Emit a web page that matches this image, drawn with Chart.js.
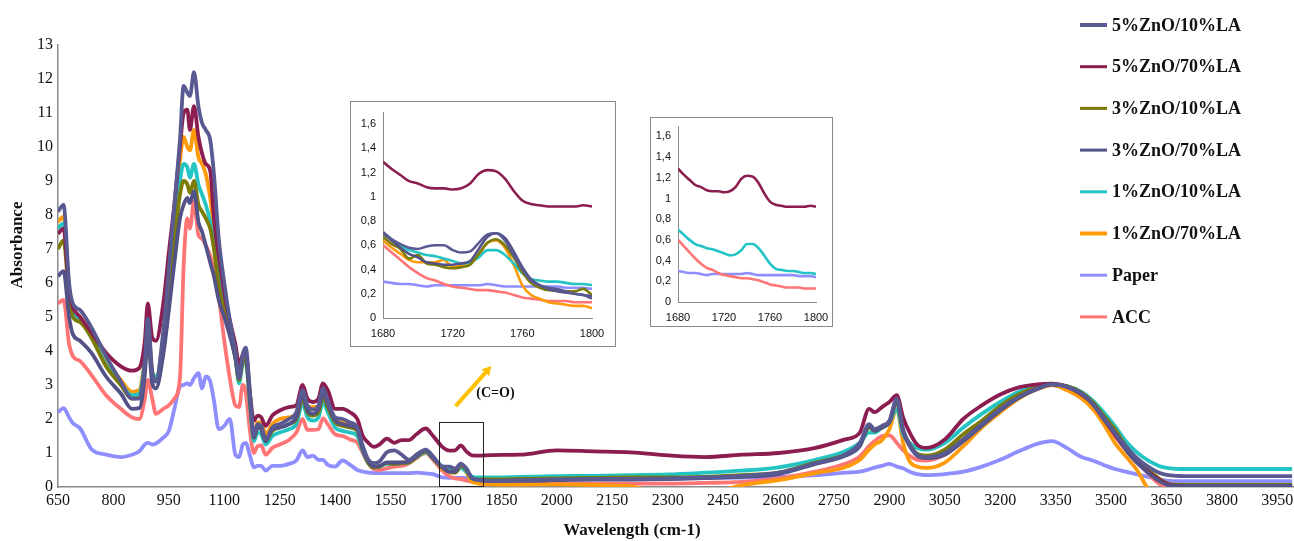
<!DOCTYPE html>
<html><head><meta charset="utf-8">
<script src="https://cdn.jsdelivr.net/npm/chart.js@4.4.1/dist/chart.umd.min.js"></script>
<style>
html,body{margin:0;padding:0;background:#fff;}
#wrap{position:relative;width:1294px;height:541px;overflow:hidden;background:#fff;}
#main{position:absolute;left:0;top:0;}
.inset{position:absolute;border:1px solid #8a8a8a;background:#fff;}
.inset canvas{display:block;}
#in1{left:350px;top:101px;width:264px;height:244px;}
#in2{left:650px;top:117px;width:181px;height:208px;}
</style></head><body>
<div id="wrap">
<canvas id="main" width="1294" height="541"></canvas>
<div class="inset" id="in1"><canvas id="c1" width="264" height="244"></canvas></div>
<div class="inset" id="in2"><canvas id="c2" width="181" height="208"></canvas></div>
</div>
<script>
// ---------- main spectrum data ----------
const wavenumbers = [
650,665,680,690,710,740,780,820,850,870,
885,893,905,915,935,950,965,980,990,1000,
1007,1018,1030,1040,1050,1062,1072,1085,1100,1115,
1130,1140,1150,1158,1170,1180,1190,1200,1212,1230,
1250,1275,1295,1312,1325,1340,1355,1367,1380,1400,
1420,1440,1460,1475,1490,1505,1520,1540,1560,1580,
1600,1620,1645,1665,1690,1710,1725,1740,1755,1770,
1790,1820,1900,2000,2100,2200,2300,2400,2500,2600,
2700,2780,2820,2845,2860,2880,2900,2920,2937,2955,
2975,3000,3050,3100,3150,3200,3250,3300,3340,3380,
3420,3450,3480,3510,3540,3570,3600,3630,3660,3700,
3800,3900,3990];

const zno5la10 = [
8.1,8.3,6.0,5.4,5.2,4.7,3.85,3.1,2.6,2.6,
3.7,4.95,3.4,3.1,4.6,6.4,8.3,10.2,11.8,11.6,
11.5,12.2,11.2,10.7,10.5,10.2,9.2,7.3,6.0,4.9,
4.0,3.2,3.9,4.1,2.7,1.5,1.85,1.8,1.4,1.75,
1.85,2.0,2.2,2.85,2.4,2.28,2.4,2.9,2.55,2.05,
2.0,1.9,1.75,1.2,0.8,0.7,0.75,1.02,1.08,0.95,
0.8,0.95,1.1,0.9,0.61,0.6,0.54,0.69,0.52,0.27,
0.2,0.18,0.2,0.22,0.24,0.24,0.25,0.28,0.33,0.42,
0.7,0.95,1.3,1.85,1.7,1.8,1.95,2.6,1.7,1.25,
0.95,0.88,1.0,1.4,1.85,2.3,2.65,2.9,3.02,2.95,
2.75,2.45,2.05,1.6,1.2,0.85,0.6,0.42,0.34,0.32,
0.32,0.32,0.32];

const zno5la70 = [
7.45,7.6,5.8,5.3,5.0,4.55,3.95,3.55,3.42,3.5,
4.3,5.4,4.4,4.3,5.4,6.9,8.3,10.0,11.0,11.1,
10.5,11.2,10.3,9.8,9.5,9.3,7.9,6.8,5.7,4.9,
4.2,3.6,3.9,3.95,2.7,1.95,2.1,2.05,1.8,2.1,
2.25,2.35,2.4,3.0,2.6,2.5,2.6,3.05,2.85,2.3,
2.3,2.2,2.0,1.5,1.3,1.18,1.25,1.42,1.3,1.38,
1.38,1.55,1.72,1.5,1.18,1.07,1.08,1.22,1.05,0.93,
0.92,0.94,0.95,1.08,1.05,1.02,0.93,0.88,0.95,1.0,
1.15,1.4,1.6,2.3,2.2,2.35,2.5,2.7,2.05,1.6,
1.25,1.15,1.4,2.0,2.4,2.72,2.93,3.02,3.04,2.95,
2.72,2.45,2.0,1.55,1.1,0.72,0.45,0.22,0.06,0.03,
0.03,0.03,0.03];

const zno3la10 = [
7.0,7.25,5.6,5.0,4.85,4.4,3.55,3.0,2.6,2.62,
3.55,4.55,3.25,3.15,4.1,5.5,7.2,8.6,9.0,8.9,
8.65,9.0,8.3,8.1,7.9,7.6,7.0,5.9,5.2,4.55,
3.8,3.15,3.7,3.75,2.45,1.45,1.75,1.7,1.35,1.65,
1.75,1.85,2.0,2.6,2.2,2.1,2.2,2.65,2.35,1.9,
1.8,1.75,1.65,1.1,0.7,0.58,0.6,0.7,0.68,0.7,
0.72,0.88,1.05,0.85,0.57,0.44,0.42,0.62,0.5,0.25,
0.22,0.22,0.24,0.25,0.27,0.28,0.28,0.3,0.35,0.42,
0.72,0.95,1.25,1.75,1.65,1.75,1.9,2.5,1.65,1.25,
0.98,0.92,1.1,1.55,1.95,2.38,2.72,2.93,3.02,2.97,
2.78,2.5,2.1,1.7,1.2,0.8,0.5,0.25,0.08,0.06,
0.06,0.06,0.06];

const zno3la70 = [
6.2,6.35,5.0,4.5,4.3,3.95,3.25,2.75,2.3,2.32,
3.3,4.5,3.05,2.9,3.9,5.2,6.6,7.9,8.3,8.5,
8.35,8.7,7.8,7.5,7.1,6.6,6.2,5.5,5.0,4.45,
3.8,3.2,3.85,3.9,2.5,1.45,1.75,1.7,1.35,1.7,
1.75,1.85,2.05,2.7,2.25,2.15,2.3,2.75,2.45,1.95,
1.85,1.8,1.7,1.1,0.75,0.6,0.62,0.72,0.72,0.72,
0.75,0.9,1.08,0.85,0.58,0.45,0.45,0.67,0.55,0.27,
0.2,0.18,0.18,0.2,0.22,0.22,0.23,0.26,0.3,0.38,
0.68,0.92,1.2,1.8,1.65,1.75,1.9,2.55,1.65,1.2,
0.92,0.85,0.95,1.35,1.8,2.25,2.62,2.88,3.02,2.95,
2.75,2.45,2.0,1.6,1.1,0.72,0.42,0.18,0.04,0.03,
0.03,0.03,0.03];

const zno1la10 = [
7.6,7.75,5.8,5.15,4.95,4.45,3.6,3.05,2.7,2.75,
3.7,4.65,3.35,3.25,4.3,5.8,7.5,9.0,9.5,9.4,
9.1,9.5,8.9,8.6,8.3,7.8,7.2,6.2,5.3,4.6,
3.8,3.05,3.6,3.65,2.35,1.35,1.6,1.55,1.25,1.5,
1.6,1.7,1.85,2.45,2.05,1.95,2.05,2.5,2.2,1.75,
1.65,1.6,1.5,1.05,0.7,0.58,0.6,0.68,0.68,0.7,
0.72,0.88,1.02,0.85,0.6,0.51,0.45,0.56,0.45,0.31,
0.28,0.28,0.3,0.32,0.33,0.35,0.37,0.42,0.48,0.58,
0.8,1.05,1.3,1.6,1.6,1.75,1.9,2.3,1.55,1.3,
1.15,1.1,1.3,1.75,2.15,2.5,2.8,2.97,3.02,2.97,
2.8,2.55,2.2,1.8,1.35,1.02,0.78,0.62,0.55,0.53,
0.53,0.53,0.53];

const zno1la70 = [
7.8,7.95,5.8,5.2,5.0,4.5,3.7,3.15,2.8,2.85,
3.8,4.75,3.4,3.2,4.4,6.0,7.8,9.6,10.3,10.0,
9.9,10.5,9.7,9.5,9.2,8.5,7.6,6.4,5.4,4.7,
3.9,3.15,3.75,3.8,2.5,1.5,1.9,1.9,1.55,1.85,
2.0,2.05,2.15,2.75,2.35,2.35,2.35,2.75,2.45,1.95,
1.9,1.85,1.7,1.1,0.72,0.6,0.62,0.7,0.7,0.72,
0.75,0.9,1.05,0.85,0.53,0.46,0.43,0.62,0.44,0.16,
0.1,0.08,0.07,0.08,0.06,0.02,-0.2,-0.2,0.05,0.2,
0.41,0.58,0.8,1.1,1.25,1.38,1.7,2.3,1.3,0.75,
0.6,0.56,0.72,1.2,1.75,2.2,2.6,2.88,3.0,2.85,
2.6,2.3,1.85,1.3,0.9,0.5,-0.05,-0.3,-0.3,-0.3,
-0.3,-0.3,-0.3];

const paper = [
2.2,2.32,2.05,1.88,1.72,1.12,0.95,0.88,0.95,1.05,
1.25,1.3,1.25,1.28,1.45,1.65,2.3,2.95,3.0,3.05,
3.0,3.2,3.35,2.9,3.25,3.1,2.55,1.7,1.8,2.0,
0.95,0.88,1.25,1.3,0.9,0.58,0.62,0.62,0.48,0.62,
0.62,0.68,0.78,1.08,0.88,0.92,0.8,0.8,0.65,0.6,
0.78,0.66,0.5,0.45,0.42,0.41,0.41,0.41,0.41,0.41,
0.41,0.42,0.4,0.38,0.28,0.27,0.27,0.27,0.26,0.26,
0.25,0.25,0.24,0.24,0.24,0.25,0.25,0.26,0.28,0.3,
0.35,0.42,0.45,0.52,0.57,0.62,0.68,0.6,0.55,0.45,
0.38,0.35,0.38,0.45,0.6,0.8,1.05,1.27,1.35,1.15,
0.88,0.78,0.65,0.53,0.45,0.37,0.3,0.22,0.18,0.17,
0.17,0.17,0.17];

const acc = [
5.4,5.5,4.2,3.85,3.7,3.3,2.7,2.3,2.05,2.0,
2.6,3.15,2.6,2.15,2.3,2.4,2.6,3.2,6.5,7.9,
7.6,8.4,7.4,7.3,7.1,6.8,6.4,5.6,4.3,3.2,
2.4,2.35,3.0,2.8,1.6,1.0,1.2,1.22,0.95,1.15,
1.25,1.38,1.6,2.0,1.68,1.68,1.7,2.02,1.85,1.55,
1.5,1.4,1.3,1.0,0.7,0.52,0.5,0.55,0.6,0.62,
0.7,0.85,1.0,0.8,0.48,0.31,0.25,0.23,0.19,0.15,
0.13,0.12,0.1,0.1,0.1,0.1,0.1,0.12,0.15,0.25,
0.45,0.68,0.9,1.2,1.35,1.5,1.52,1.3,1.08,0.92,
0.8,0.78,0.95,1.4,1.85,2.25,2.62,2.88,3.0,2.9,
2.65,2.4,2.0,1.5,1.1,0.75,0.4,0.1,0.02,0.02,
0.02,0.02,0.02];

const xTickValues = [650,800,950,1100,1250,1400,1550,1700,1850,2000,2150,2300,2450,2600,2750,2900,3050,3200,3350,3500,3650,3800,3950];
const yTickValues = [0,1,2,3,4,5,6,7,8,9,10,11,12,13];

// ---------- inset (1680-1800 cm-1) data ----------
const insetWavenumbers = [1680,1685,1690,1695,1700,1705,1710,1715,1720,1725,1730,1735,1740,1745,1750,1755,1760,1765,1770,1775,1780,1785,1790,1795,1800];
const inZno5la10 = [0.71,0.65,0.61,0.58,0.57,0.59,0.6,0.6,0.56,0.54,0.55,0.62,0.69,0.7,0.64,0.52,0.4,0.31,0.27,0.25,0.24,0.22,0.2,0.19,0.16];
const inZno5la70 = [1.29,1.23,1.18,1.13,1.11,1.08,1.07,1.07,1.06,1.07,1.11,1.19,1.22,1.21,1.15,1.05,0.97,0.94,0.93,0.92,0.92,0.92,0.92,0.93,0.92];
const inZno3la10 = [0.67,0.61,0.57,0.49,0.52,0.45,0.44,0.42,0.41,0.42,0.44,0.53,0.62,0.65,0.6,0.5,0.38,0.29,0.25,0.23,0.23,0.22,0.22,0.24,0.19];
const inZno3la70 = [0.7,0.64,0.58,0.53,0.5,0.46,0.45,0.44,0.44,0.45,0.47,0.57,0.67,0.7,0.66,0.55,0.42,0.32,0.27,0.24,0.22,0.21,0.2,0.19,0.18];
const inZno1la10 = [0.7,0.65,0.6,0.56,0.54,0.52,0.51,0.49,0.47,0.45,0.46,0.5,0.56,0.56,0.52,0.45,0.37,0.32,0.31,0.3,0.3,0.29,0.28,0.28,0.27];
const inZno1la70 = [0.64,0.58,0.53,0.48,0.46,0.46,0.46,0.48,0.42,0.43,0.45,0.52,0.62,0.64,0.58,0.44,0.27,0.19,0.16,0.13,0.12,0.11,0.1,0.1,0.08];
const inPaper = [0.3,0.29,0.28,0.28,0.27,0.26,0.27,0.27,0.27,0.27,0.27,0.27,0.28,0.27,0.26,0.26,0.26,0.26,0.26,0.26,0.26,0.25,0.25,0.25,0.24];
const inAcc = [0.6,0.54,0.48,0.42,0.37,0.33,0.31,0.28,0.26,0.25,0.24,0.23,0.23,0.22,0.21,0.19,0.17,0.16,0.15,0.14,0.14,0.14,0.13,0.13,0.13];
const insetXTicks = [1680,1720,1760,1800];
const insetYTicks = [0,0.2,0.4,0.6,0.8,1,1.2,1.4,1.6];
const insetYTickLabels = ['0','0,2','0,4','0,6','0,8','1','1,2','1,4','1,6'];

const seriesNames = ['5%ZnO/10%LA','5%ZnO/70%LA','3%ZnO/10%LA','3%ZnO/70%LA','1%ZnO/10%LA','1%ZnO/70%LA','Paper','ACC'];

// ---------- styles ----------
const seriesStyle = [
  {color:'#5a5a92', order:0, legendWidth:4},
  {color:'#8b1d50', order:2, legendWidth:3},
  {color:'#7b7b06', order:3, legendWidth:3},
  {color:'#525288', order:1, legendWidth:3},
  {color:'#25c4c4', order:4, legendWidth:3},
  {color:'#ff9a08', order:5, legendWidth:4},
  {color:'#8e8eff', order:7, legendWidth:3},
  {color:'#ff7575', order:6, legendWidth:3}
];
const mainSeries = [zno5la10,zno5la70,zno3la10,zno3la70,zno1la10,zno1la70,paper,acc];
const inset1Series = [inZno5la10,inZno5la70,inZno3la10,inZno3la70,inZno1la10,inZno1la70,inPaper,inAcc];
const inset2Keep = [1,4,6,7];

const SERIF = '"Liberation Serif","Times New Roman",serif';
const SANS = '"Liberation Sans",Arial,sans-serif';
const AXIS_GREY = '#8a8a8a';

function buildDatasets(xs, list, indices, width){
  return indices.map(i => ({
    label: seriesNames[i],
    data: xs.map((x,k)=>({x:x, y:list[i][k]})),
    borderColor: seriesStyle[i].color,
    backgroundColor: seriesStyle[i].color,
    borderWidth: width,
    pointRadius: 0,
    fill: false,
    cubicInterpolationMode: 'monotone',
    order: seriesStyle[i].order
  }));
}

// annotations in data coordinates
const zoomBox = {x0:1680, x1:1800, y0:0, y1:1.9};
const arrowFrom = {x:1726, y:2.38};
const arrowTo = {x:1823, y:3.56};
const coLabel = {x:1782, y:2.74, text:'(C=O)'};

const decorPlugin = {
  id:'decor',
  afterDatasetsDraw(chart){
    const ctx = chart.ctx, xs = chart.scales.x, ys = chart.scales.y;
    ctx.save();
    ctx.strokeStyle = '#222'; ctx.lineWidth = 1;
    const rx0 = xs.getPixelForValue(zoomBox.x0), rx1 = xs.getPixelForValue(zoomBox.x1);
    const ry0 = ys.getPixelForValue(zoomBox.y0), ry1 = ys.getPixelForValue(zoomBox.y1);
    ctx.strokeRect(Math.round(rx0)+0.5, Math.round(ry1)+0.5, Math.round(rx1-rx0), Math.round(ry0-ry1)-1);
    const ax0 = xs.getPixelForValue(arrowFrom.x), ay0 = ys.getPixelForValue(arrowFrom.y);
    const ax1 = xs.getPixelForValue(arrowTo.x), ay1 = ys.getPixelForValue(arrowTo.y);
    const ang = Math.atan2(ay1-ay0, ax1-ax0);
    const head = 9;
    ctx.strokeStyle = '#ffc000'; ctx.fillStyle = '#ffc000'; ctx.lineWidth = 4; ctx.lineCap='butt';
    ctx.beginPath(); ctx.moveTo(ax0,ay0);
    ctx.lineTo(ax1 - head*0.8*Math.cos(ang), ay1 - head*0.8*Math.sin(ang)); ctx.stroke();
    ctx.beginPath();
    ctx.moveTo(ax1, ay1);
    ctx.lineTo(ax1 - head*Math.cos(ang) + 5*Math.sin(ang), ay1 - head*Math.sin(ang) - 5*Math.cos(ang));
    ctx.lineTo(ax1 - head*Math.cos(ang) - 5*Math.sin(ang), ay1 - head*Math.sin(ang) + 5*Math.cos(ang));
    ctx.closePath(); ctx.fill();
    ctx.fillStyle = '#111';
    ctx.font = 'bold 14px ' + SERIF;
    ctx.textAlign = 'left'; ctx.textBaseline = 'middle';
    ctx.fillText(coLabel.text, xs.getPixelForValue(coLabel.x), ys.getPixelForValue(coLabel.y));
    ctx.restore();
  },
  afterDraw(chart){
    const ctx = chart.ctx;
    ctx.save();
    ctx.fillStyle = '#111';
    ctx.font = 'bold 17px ' + SERIF;
    ctx.textAlign = 'center'; ctx.textBaseline = 'middle';
    ctx.fillText('Wavelength (cm-1)', 632, 531);
    ctx.translate(18, 245); ctx.rotate(-Math.PI/2);
    ctx.fillText('Absorbance', 0, 0);
    ctx.restore();
    ctx.save();
    ctx.font = 'bold 18px ' + SERIF;
    ctx.textAlign = 'left'; ctx.textBaseline = 'middle';
    const lx0 = 1080, lx1 = 1107, tx = 1112, ly0 = 25, step = 41.7;
    seriesNames.forEach((name, i) => {
      const y = ly0 + i*step;
      ctx.strokeStyle = seriesStyle[i].color;
      ctx.lineWidth = seriesStyle[i].legendWidth;
      ctx.beginPath(); ctx.moveTo(lx0, y); ctx.lineTo(lx1, y); ctx.stroke();
      ctx.fillStyle = '#111';
      ctx.fillText(name, tx, y + 1);
    });
    ctx.restore();
  }
};

new Chart(document.getElementById('main'), {
  type: 'line',
  data: { datasets: buildDatasets(wavenumbers, mainSeries, [0,1,2,3,4,5,6,7], 3.8) },
  options: {
    responsive:false, animation:false, devicePixelRatio:1,
    layout:{padding:{top:45,left:0,right:0,bottom:0}},
    plugins:{legend:{display:false}, tooltip:{enabled:false}, title:{display:false}},
    scales:{
      x:{
        type:'linear', min:650, max:3995,
        afterBuildTicks: s => { s.ticks = xTickValues.map(v=>({value:v})); },
        afterFit: s => { s.height = 54; s.paddingLeft = 0; s.paddingRight = 0; },
        grid:{display:false, drawTicks:false},
        border:{display:true, color:AXIS_GREY, width:1.5},
        ticks:{padding:4, autoSkip:false, maxRotation:0, color:'#111', font:{family:SERIF, size:16},
               callback: v => String(v)}
      },
      y:{
        min:0, max:13,
        afterBuildTicks: s => { s.ticks = yTickValues.map(v=>({value:v})); },
        afterFit: s => { s.width = 58; s.paddingTop = 0; s.paddingBottom = 0; },
        grid:{display:false, drawTicks:false},
        border:{display:true, color:AXIS_GREY, width:1.5},
        ticks:{padding:5, color:'#111', font:{family:SERIF, size:16}, callback: v => String(v)}
      }
    }
  },
  plugins:[decorPlugin]
});

function insetChart(id, indices, pad, yW, xH){
  return new Chart(document.getElementById(id), {
    type:'line',
    data:{ datasets: buildDatasets(insetWavenumbers, inset1Series, indices, 2.6) },
    options:{
      responsive:false, animation:false, devicePixelRatio:1,
      layout:{padding:pad},
      plugins:{legend:{display:false}, tooltip:{enabled:false}},
      scales:{
        x:{
          type:'linear', min:1680, max:1800,
          afterBuildTicks: s => { s.ticks = insetXTicks.map(v=>({value:v})); },
          afterFit: s => { s.height = xH; s.paddingLeft = 0; s.paddingRight = 0; },
          grid:{display:false, drawTicks:false},
          border:{display:true, color:AXIS_GREY, width:1},
          ticks:{padding:9, autoSkip:false, maxRotation:0, color:'#111', font:{family:SANS, size:11},
                 callback: v => String(v)}
        },
        y:{
          min:0, max:1.7,
          afterBuildTicks: s => { s.ticks = insetYTicks.map(v=>({value:v})); },
          afterFit: s => { s.width = yW; s.paddingTop = 0; s.paddingBottom = 0; },
          grid:{display:false, drawTicks:false},
          border:{display:true, color:AXIS_GREY, width:1},
          ticks:{padding:7, color:'#111', font:{family:SANS, size:11},
                 callback: (v, i) => insetYTickLabels[i]}
        }
      }
    }
  });
}
insetChart('c1', [0,1,2,3,4,5,6,7], {left:0, right:23, top:10, bottom:0}, 32, 28);
insetChart('c2', inset2Keep, {left:0, right:16, top:8, bottom:0}, 27, 24);
</script>
</body></html>
